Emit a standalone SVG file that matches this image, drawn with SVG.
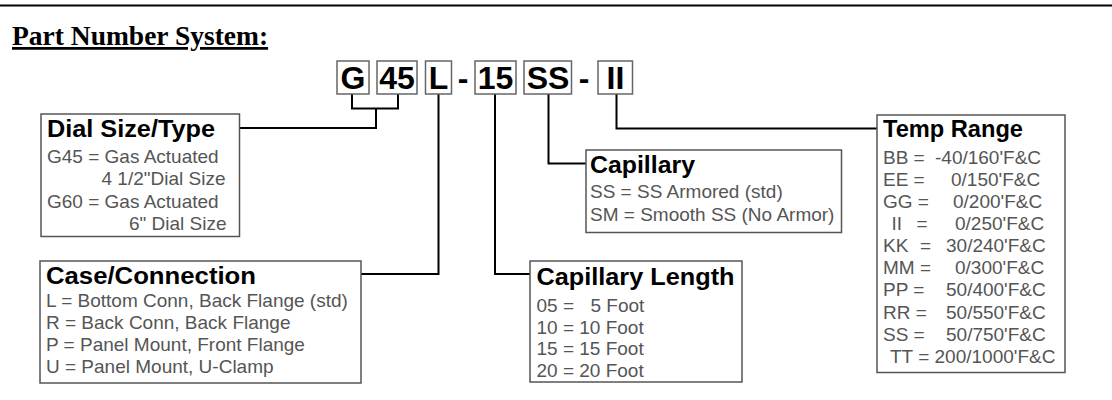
<svg xmlns="http://www.w3.org/2000/svg" width="1112" height="400" viewBox="0 0 1112 400">
<style>
.box{fill:#fff;stroke:#555;stroke-width:1.5}
.cbox{fill:#fff;stroke:#666;stroke-width:1.5}
.hdr{font-family:"Liberation Sans",Arial,sans-serif;font-weight:bold;font-size:23px;fill:#000}
.body{font-family:"Liberation Sans",Arial,sans-serif;font-size:19px;fill:#555}
.code{font-family:"Liberation Sans",Arial,sans-serif;font-weight:bold;font-size:32px;fill:#000;text-anchor:middle}
.conn{fill:none;stroke:#000;stroke-width:2}
.title{font-family:"Liberation Serif","Times New Roman",serif;font-weight:bold;font-size:27.5px;fill:#000;text-decoration:underline}
</style>
<rect width="1112" height="400" fill="#fff"/>
<line x1="0" y1="5.5" x2="1112" y2="5.5" stroke="#000" stroke-width="2"/>
<text class="title" x="12" y="45">Part Number System:</text>

<g id="code">
<rect class="cbox" x="337" y="61" width="32" height="33"/>
<text class="code" x="353" y="89">G</text>
<rect class="cbox" x="377" y="61" width="40" height="33"/>
<text class="code" x="397" y="89">45</text>
<rect class="cbox" x="425.5" y="61" width="26" height="33"/>
<text class="code" x="438.5" y="89">L</text>
<text class="code" x="463" y="89">-</text>
<rect class="cbox" x="475" y="61" width="41" height="33"/>
<text class="code" x="495.5" y="89">15</text>
<rect class="cbox" x="524" y="61" width="47.5" height="33"/>
<text class="code" x="548" y="89">SS</text>
<text class="code" x="584" y="89">-</text>
<rect class="cbox" x="598" y="61" width="34.5" height="33"/>
<text class="code" x="615.5" y="89">II</text>
</g>

<g id="connectors">
<path class="conn" d="M352 94.5 V108.5 H398 V94.5"/>
<path class="conn" d="M376 108.5 V128 H239.5"/>
<path class="conn" d="M438.5 94.5 V274 H361"/>
<path class="conn" d="M495 94.5 V274 H530"/>
<path class="conn" d="M548.5 94.5 V163.5 H586"/>
<path class="conn" d="M616.5 94.5 V128.5 H877"/>
</g>

<g id="dial">
<rect class="box" x="41" y="114" width="198.5" height="122.5"/>
<text class="hdr" x="47" y="137" textLength="168" lengthAdjust="spacingAndGlyphs">Dial Size/Type</text>
<text class="body" x="47" y="162.5">G45 = Gas Actuated</text>
<text class="body" x="101.5" y="185">4 1/2"Dial Size</text>
<text class="body" x="47" y="207.5">G60 = Gas Actuated</text>
<text class="body" x="129" y="230">6" Dial Size</text>
</g>

<g id="case">
<rect class="box" x="40" y="261" width="321" height="122"/>
<text class="hdr" x="46" y="284" textLength="210" lengthAdjust="spacingAndGlyphs">Case/Connection</text>
<text class="body" x="46" y="306.5">L = Bottom Conn, Back Flange (std)</text>
<text class="body" x="46" y="328.5">R = Back Conn, Back Flange</text>
<text class="body" x="46" y="350.5">P = Panel Mount, Front Flange</text>
<text class="body" x="46" y="372.5">U = Panel Mount, U-Clamp</text>
</g>

<g id="capillary">
<rect class="box" x="586" y="150" width="255.5" height="82.5"/>
<text class="hdr" x="590" y="173" textLength="105" lengthAdjust="spacingAndGlyphs">Capillary</text>
<text class="body" x="590" y="198">SS = SS Armored (std)</text>
<text class="body" x="590" y="220.5">SM = Smooth SS (No Armor)</text>
</g>

<g id="caplength">
<rect class="box" x="530" y="261" width="212" height="121"/>
<text class="hdr" x="536.5" y="285" textLength="198" lengthAdjust="spacingAndGlyphs">Capillary Length</text>
<text class="body" x="536.5" y="311.5">05 =<tspan x="590.5">5 Foot</tspan></text>
<text class="body" x="536.5" y="333.5">10 = 10 Foot</text>
<text class="body" x="536.5" y="355">15 = 15 Foot</text>
<text class="body" x="536.5" y="377">20 = 20 Foot</text>
</g>

<g id="temp">
<rect class="box" x="877" y="115" width="188" height="257.5"/>
<text class="hdr" x="883" y="136.5" textLength="140" lengthAdjust="spacingAndGlyphs">Temp Range</text>
<text class="body" x="883" y="164">BB =<tspan x="935">-40/160'F&amp;C</tspan></text>
<text class="body" x="883" y="186">EE =<tspan x="951">0/150'F&amp;C</tspan></text>
<text class="body" x="883" y="208">GG =<tspan x="953">0/200'F&amp;C</tspan></text>
<text class="body" x="891.5" y="230">II<tspan x="916.5">=</tspan><tspan x="955">0/250'F&amp;C</tspan></text>
<text class="body" x="883" y="252">KK<tspan x="920">=</tspan><tspan x="946">30/240'F&amp;C</tspan></text>
<text class="body" x="883" y="274">MM =<tspan x="955">0/300'F&amp;C</tspan></text>
<text class="body" x="883" y="296">PP =<tspan x="946">50/400'F&amp;C</tspan></text>
<text class="body" x="883" y="318.5">RR =<tspan x="946">50/550'F&amp;C</tspan></text>
<text class="body" x="883" y="340.5">SS =<tspan x="946">50/750'F&amp;C</tspan></text>
<text class="body" x="890" y="363">TT = 200/1000'F&amp;C</text>
</g>
</svg>
